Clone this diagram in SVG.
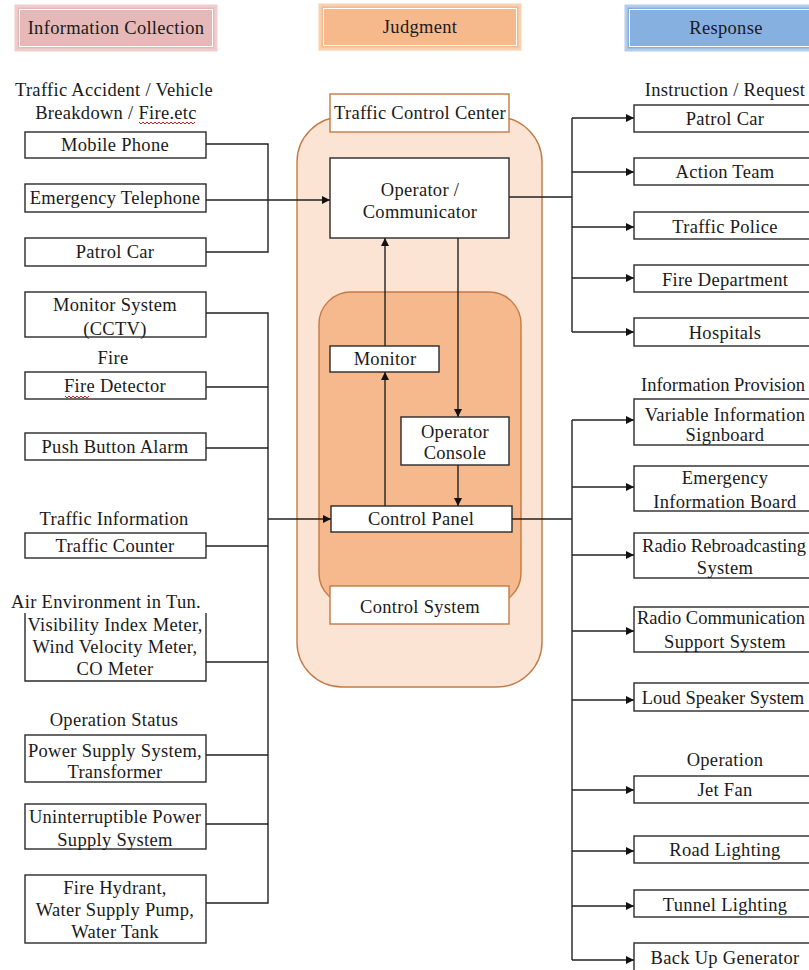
<svg xmlns="http://www.w3.org/2000/svg" width="809" height="970" viewBox="0 0 809 970">
<style>
.box{fill:#fff;stroke:#2a2a2a;stroke-width:1.4}
.obox{fill:#fff;stroke:#c47a45;stroke-width:1.4}
.t{font-family:"Liberation Serif","Times New Roman",serif;font-size:18.5px;letter-spacing:0.3px;text-anchor:middle;fill:#1a1a1a}
.ln{stroke:#222;stroke-width:1.4;fill:none}
.arr{marker-end:url(#ah)}
.wv{stroke:#d02020;stroke-width:1;fill:none}
</style>
<defs>
<marker id="ah" viewBox="0 0 10 10" refX="10" refY="5" markerWidth="9" markerHeight="8" markerUnits="userSpaceOnUse" orient="auto">
<path d="M0,0 L10,5 L0,10 z" fill="#111"/>
</marker>
</defs>
<rect width="809" height="970" fill="#fff"/>

<!-- Headers -->
<g id="hdr-info">
<rect x="16" y="6" width="200" height="44" fill="#e6b9b8" stroke="#eecdcc" stroke-width="3"/>
<rect x="19.5" y="9.5" width="193" height="37" fill="none" stroke="#fff" stroke-width="1"/>
<text class="t" x="116" y="34">Information Collection</text>
</g>
<g id="hdr-judgment">
<rect x="320" y="5" width="200" height="44" fill="#f6b98b" stroke="#f9d0b0" stroke-width="3"/>
<rect x="323.5" y="8.5" width="193" height="37" fill="none" stroke="#fff" stroke-width="1"/>
<text class="t" x="420" y="33">Judgment</text>
</g>
<g id="hdr-response">
<rect x="626" y="6" width="200" height="44" fill="#86b0e0" stroke="#b3cdec" stroke-width="3"/>
<rect x="629.5" y="9.5" width="193" height="37" fill="none" stroke="#fff" stroke-width="1"/>
<text class="t" x="726" y="34">Response</text>
</g>

<!-- Containers -->
<g id="traffic-control-center">
<rect x="297" y="117" width="245" height="570" rx="45" fill="#fce4d5" stroke="#c47a45" stroke-width="1.4"/>
<rect class="obox" x="330" y="94" width="179" height="38"/>
<text class="t" x="420" y="119">Traffic Control Center</text>
</g>
<g id="control-system">
<rect x="319" y="292" width="202" height="313" rx="32" fill="#f6b98d" stroke="#c47a45" stroke-width="1.4"/>
<rect class="obox" x="330" y="586" width="179" height="38"/>
<text class="t" x="420" y="613">Control System</text>
</g>

<!-- Connectors -->
<g id="connectors">
<path class="ln" d="M206,144 H268 V252 H206"/>
<path class="ln arr" d="M206,200 H330"/>
<path class="ln" d="M206,313 H268 V903 H206 M206,387 H268 M206,448 H268 M206,546 H268 M206,662 H268 M206,755 H268 M206,824 H268"/>
<path class="ln arr" d="M268,519 H331"/>
<path class="ln arr" d="M385,346 V238"/>
<path class="ln arr" d="M385,506 V372"/>
<path class="ln arr" d="M458,238 V417"/>
<path class="ln arr" d="M458,465 V506"/>
<path class="ln" d="M509,197 H572 M572,118 V332"/>
<path class="ln arr" d="M572,118 H634"/>
<path class="ln arr" d="M572,172 H634"/>
<path class="ln arr" d="M572,227 H634"/>
<path class="ln arr" d="M572,278 H634"/>
<path class="ln arr" d="M572,332 H634"/>
<path class="ln" d="M512,519 H572 M572,420 V960"/>
<path class="ln arr" d="M572,420 H634"/>
<path class="ln arr" d="M572,487 H634"/>
<path class="ln arr" d="M572,555 H634"/>
<path class="ln arr" d="M572,631 H634"/>
<path class="ln arr" d="M572,700 H634"/>
<path class="ln arr" d="M572,790 H634"/>
<path class="ln arr" d="M572,851 H634"/>
<path class="ln arr" d="M572,906 H634"/>
<path class="ln arr" d="M572,960 H634"/>
</g>

<!-- Center nodes -->
<g id="operator">
<rect class="box" x="330" y="158" width="179" height="80"/>
<text class="t" x="420" y="196">Operator /</text>
<text class="t" x="420" y="218">Communicator</text>
</g>
<g id="monitor">
<rect class="box" x="330" y="346" width="109" height="26"/>
<text class="t" x="385" y="365">Monitor</text>
</g>
<g id="operator-console">
<rect class="box" x="401" y="417" width="108" height="48"/>
<text class="t" x="455" y="438">Operator</text>
<text class="t" x="455" y="459">Console</text>
</g>
<g id="control-panel">
<rect class="box" x="331" y="506" width="181" height="26"/>
<text class="t" x="421" y="525">Control Panel</text>
</g>

<!-- Left labels -->
<g id="lbl-left">
<text class="t" x="114" y="96">Traffic Accident / Vehicle</text>
<text class="t" x="116" y="119">Breakdown / Fire.etc</text>
<path class="wv" d="M139,122 l2,2 l2,-2 l2,2 l2,-2 l2,2 l2,-2 l2,2 l2,-2 l2,2 l2,-2 l2,2 l2,-2 l2,2 l2,-2 l2,2 l2,-2 l2,2 l2,-2 l2,2 l2,-2 l2,2 l2,-2 l2,2 l2,-2 l2,2 l2,-2 l2,2 l2,-2"/>
<text class="t" x="113" y="364">Fire</text>
<text class="t" x="114" y="525">Traffic Information</text>
<text class="t" x="106" y="608">Air Environment in Tun.</text>
<text class="t" x="114" y="726">Operation Status</text>
</g>

<!-- Left nodes -->
<g id="mobile-phone"><rect class="box" x="25" y="132" width="181" height="26"/><text class="t" x="115" y="151">Mobile Phone</text></g>
<g id="emergency-telephone"><rect class="box" x="25" y="184" width="181" height="28"/><text class="t" x="115" y="204">Emergency Telephone</text></g>
<g id="patrol-car-in"><rect class="box" x="25" y="238" width="181" height="28"/><text class="t" x="115" y="258">Patrol Car</text></g>
<g id="cctv"><rect class="box" x="25" y="292" width="181" height="45"/><text class="t" x="115" y="311">Monitor System</text><text class="t" x="115" y="335">(CCTV)</text></g>
<g id="fire-detector"><rect class="box" x="25" y="372" width="181" height="27"/><text class="t" x="115" y="392">Fire Detector</text>
<path class="wv" d="M65,396 l2,2 l2,-2 l2,2 l2,-2 l2,2 l2,-2 l2,2 l2,-2 l2,2 l2,-2 l2,2 l2,-2"/></g>
<g id="push-button"><rect class="box" x="25" y="433" width="181" height="27"/><text class="t" x="115" y="453">Push Button Alarm</text></g>
<g id="traffic-counter"><rect class="box" x="25" y="533" width="181" height="25"/><text class="t" x="115" y="552">Traffic Counter</text></g>
<g id="visibility"><path class="box" d="M25,613 V681 H206 V613"/><text class="t" x="115" y="631">Visibility  Index Meter,</text><text class="t" x="115" y="653">Wind Velocity Meter,</text><text class="t" x="115" y="675">CO Meter</text></g>
<g id="power-supply"><rect class="box" x="25" y="735" width="181" height="47"/><text class="t" x="115" y="757">Power Supply System,</text><text class="t" x="115" y="778">Transformer</text></g>
<g id="ups"><rect class="box" x="25" y="804" width="181" height="45"/><text class="t" x="115" y="823">Uninterruptible Power</text><text class="t" x="115" y="846">Supply System</text></g>
<g id="fire-hydrant"><rect class="box" x="25" y="875" width="181" height="68"/><text class="t" x="115" y="894">Fire Hydrant,</text><text class="t" x="115" y="916">Water Supply Pump,</text><text class="t" x="115" y="938">Water Tank</text></g>

<!-- Right labels -->
<g id="lbl-right">
<text class="t" x="725" y="96">Instruction / Request</text>
<text class="t" x="723" y="391" style="letter-spacing:0">Information Provision</text>
<text class="t" x="725" y="766">Operation</text>
</g>

<!-- Right nodes -->
<g id="patrol-car-out"><rect class="box" x="634" y="105" width="182" height="27"/><text class="t" x="725" y="125">Patrol Car</text></g>
<g id="action-team"><rect class="box" x="634" y="158" width="182" height="27"/><text class="t" x="725" y="178">Action Team</text></g>
<g id="traffic-police"><rect class="box" x="634" y="212" width="182" height="27"/><text class="t" x="725" y="233">Traffic Police</text></g>
<g id="fire-department"><rect class="box" x="634" y="265" width="182" height="27"/><text class="t" x="725" y="286">Fire Department</text></g>
<g id="hospitals"><rect class="box" x="634" y="318" width="182" height="28"/><text class="t" x="725" y="339">Hospitals</text></g>
<g id="vis"><rect class="box" x="634" y="399" width="182" height="46"/><text class="t" x="725" y="421">Variable Information</text><text class="t" x="725" y="441">Signboard</text></g>
<g id="eib"><rect class="box" x="634" y="466" width="182" height="45"/><text class="t" x="725" y="484">Emergency</text><text class="t" x="725" y="508">Information Board</text></g>
<g id="radio-rebroadcast"><rect class="box" x="634" y="533" width="182" height="45"/><text class="t" x="724" y="552" style="letter-spacing:0">Radio Rebroadcasting</text><text class="t" x="725" y="574">System</text></g>
<g id="radio-comm"><rect class="box" x="634" y="607" width="182" height="45"/><text class="t" x="721" y="624" style="letter-spacing:0">Radio Communication</text><text class="t" x="725" y="648">Support System</text></g>
<g id="loud-speaker"><rect class="box" x="634" y="683" width="182" height="28"/><text class="t" x="723" y="704" style="letter-spacing:0">Loud Speaker System</text></g>
<g id="jet-fan"><rect class="box" x="634" y="776" width="182" height="27"/><text class="t" x="725" y="796">Jet Fan</text></g>
<g id="road-lighting"><rect class="box" x="634" y="836" width="182" height="27"/><text class="t" x="725" y="856">Road Lighting</text></g>
<g id="tunnel-lighting"><rect class="box" x="634" y="890" width="182" height="27"/><text class="t" x="725" y="911">Tunnel Lighting</text></g>
<g id="backup-generator"><rect class="box" x="634" y="943" width="182" height="40"/><text class="t" x="725" y="964">Back Up Generator</text></g>
</svg>
